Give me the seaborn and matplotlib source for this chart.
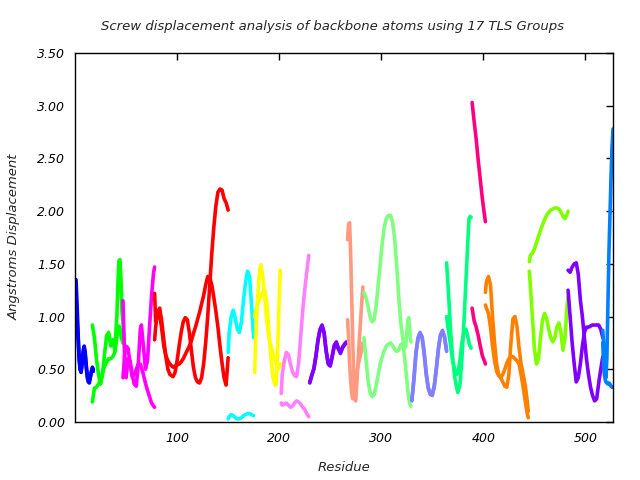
import matplotlib
matplotlib.use("Agg")
import matplotlib.pyplot as plt
import seaborn as sns

# residue numbers and screw displacement (two backbone traces per TLS group)
res_01 = [1, 2, 3, 4, 5, 6, 7, 8, 9, 10, 11, 12, 13, 14, 15, 16, 17, 18]
a_01 = [1.35, 1.12, 0.85, 0.62, 0.5, 0.47, 0.58, 0.68, 0.72, 0.66, 0.52, 0.42, 0.38, 0.37, 0.42, 0.48, 0.52, 0.5]
b_01 = [1.13, 0.98, 0.8, 0.6, 0.5, 0.48, 0.55, 0.64, 0.7, 0.64, 0.54, 0.45, 0.4, 0.39, 0.43, 0.47, 0.5, 0.48]

res_02 = [17, 19, 21, 23, 25, 27, 29, 31, 33, 35, 37, 39, 41, 42, 43, 44, 45, 46, 47, 48]
a_02 = [0.92, 0.8, 0.6, 0.45, 0.36, 0.45, 0.65, 0.82, 0.85, 0.72, 0.78, 0.68, 1.0, 1.3, 1.53, 1.54, 1.35, 1.05, 0.95, 0.75]
b_02 = [0.19, 0.32, 0.33, 0.36, 0.4, 0.47, 0.53, 0.57, 0.6, 0.6, 0.62, 0.66, 0.8, 0.88, 0.91, 0.88, 0.82, 0.78, 0.75, 0.74]

res_03 = [47, 48, 49, 50, 52, 54, 56, 58, 60, 62, 64, 65, 67, 69, 71, 73, 75, 77, 78]
a_03 = [1.15, 0.8, 0.5, 0.42, 0.6, 0.58, 0.45, 0.36, 0.34, 0.55, 0.88, 0.92, 0.72, 0.5, 0.58, 0.9, 1.2, 1.42, 1.47]
b_03 = [0.42, 0.55, 0.68, 0.72, 0.7, 0.55, 0.43, 0.45, 0.5, 0.55, 0.55, 0.52, 0.45, 0.37, 0.3, 0.24, 0.18, 0.15, 0.14]

res_04 = [78, 79, 81, 83, 85, 87, 89, 91, 93, 96, 98, 100, 102, 104, 106, 108, 110, 112, 114,
          116, 118, 120, 122, 124, 126, 128, 130, 132, 134, 136, 138, 140, 142, 144, 146, 148, 150]
a_04 = [1.22, 0.95, 1.05, 1.08, 0.95, 0.78, 0.62, 0.5, 0.45, 0.43, 0.47, 0.58, 0.72, 0.85, 0.95, 0.99, 0.97, 0.85, 0.68,
        0.52, 0.42, 0.38, 0.37, 0.42, 0.55, 0.75, 1.0, 1.3, 1.6, 1.85, 2.05, 2.18, 2.21, 2.2, 2.12, 2.08, 2.01]
b_04 = [0.78, 0.9, 1.05, 1.02, 0.88, 0.72, 0.63, 0.58, 0.55, 0.52, 0.53, 0.54, 0.55, 0.57, 0.6, 0.64, 0.68, 0.72, 0.77,
        0.84, 0.9, 0.97, 1.04, 1.12, 1.2, 1.3, 1.38, 1.37, 1.3, 1.18, 1.05, 0.9, 0.72, 0.56, 0.42, 0.35, 0.61]

res_05 = [150, 151, 153, 155, 157, 159, 161, 163, 165, 167, 169, 171, 173, 175]
a_05 = [0.66, 0.85, 1.0, 1.06, 0.98, 0.88, 0.85, 0.95, 1.15, 1.32, 1.43, 1.38, 1.1, 0.8]
b_05 = [0.03, 0.05, 0.07, 0.06, 0.04, 0.03, 0.03, 0.04, 0.06, 0.07, 0.08, 0.08, 0.07, 0.06]

res_06 = [176, 177, 179, 181, 182, 184, 186, 188, 190, 192, 194, 196, 197, 198, 199, 200, 201]
a_06 = [0.47, 0.8, 1.2, 1.45, 1.49, 1.38, 1.15, 0.95, 0.8, 0.72, 0.65, 0.58, 0.55, 0.52, 0.5, 0.52, 0.55]
b_06 = [1.0, 1.05, 1.12, 1.17, 1.2, 1.23, 1.25, 1.12, 0.85, 0.6, 0.42, 0.35, 0.36, 0.55, 0.85, 1.15, 1.44]

res_07 = [202, 203, 205, 207, 209, 211, 213, 215, 217, 219, 221, 223, 225, 227, 229]
a_07 = [0.27, 0.45, 0.58, 0.66, 0.64, 0.55, 0.48, 0.44, 0.43, 0.55, 0.8, 1.05, 1.25, 1.42, 1.58]
b_07 = [0.18, 0.16, 0.17, 0.18, 0.16, 0.14, 0.15, 0.18, 0.2, 0.19, 0.17, 0.14, 0.12, 0.08, 0.05]

res_08 = [230, 232, 234, 236, 238, 240, 242, 244, 246, 248, 250, 252, 254, 256, 258, 260, 262, 264, 266]
a_08 = [0.38, 0.45, 0.5, 0.62, 0.78, 0.88, 0.92, 0.85, 0.68, 0.55, 0.53, 0.62, 0.72, 0.76, 0.7, 0.65, 0.7, 0.74, 0.76]
b_08 = [0.37, 0.44, 0.51, 0.63, 0.77, 0.87, 0.91, 0.84, 0.67, 0.56, 0.54, 0.63, 0.73, 0.75, 0.69, 0.66, 0.71, 0.73, 0.75]

res_09 = [267, 268, 269, 270, 271, 272, 273, 274, 275, 276, 278, 280, 281, 282]
a_09 = [1.73, 1.88, 1.89, 1.6, 1.2, 0.8, 0.45, 0.22, 0.2, 0.35, 0.7, 1.0, 1.15, 1.28]
b_09 = [0.97, 0.8, 0.55, 0.4, 0.27, 0.22, 0.25, 0.32, 0.4, 0.47, 0.57, 0.65, 0.7, 0.75]

res_10 = [283, 285, 287, 289, 291, 293, 295, 297, 299, 301, 303, 305, 307, 309,
          311, 313, 315, 317, 319, 321, 323, 324, 325, 326, 327, 328, 329]
a_10 = [1.23, 1.18, 1.1, 1.0, 0.95, 0.97, 1.1, 1.3, 1.5, 1.7, 1.85, 1.93, 1.96, 1.96,
        1.9, 1.75, 1.5, 1.2, 0.95, 0.8, 0.7, 0.72, 0.85, 0.97, 0.99, 0.85, 0.76]
b_10 = [0.8, 0.6, 0.4, 0.28, 0.24, 0.26, 0.35, 0.45, 0.55, 0.62, 0.68, 0.72, 0.74, 0.75,
        0.73, 0.69, 0.67, 0.68, 0.73, 0.75, 0.6, 0.5, 0.4, 0.3, 0.22, 0.17, 0.15]

res_11 = [330, 332, 334, 336, 338, 340, 342, 344, 346, 348, 350, 352, 354, 356, 358, 360, 362, 364]
a_11 = [0.21, 0.4, 0.65, 0.8, 0.85, 0.8, 0.65, 0.45, 0.32, 0.26, 0.26, 0.35, 0.52, 0.7, 0.82, 0.87, 0.8, 0.67]
b_11 = [0.2, 0.42, 0.66, 0.79, 0.84, 0.81, 0.67, 0.47, 0.33, 0.27, 0.25, 0.34, 0.5, 0.69, 0.83, 0.86, 0.81, 0.68]

res_12 = [364, 366, 368, 370, 372, 374, 375, 377, 379, 381, 383, 385, 386, 387, 388]
a_12 = [1.51, 1.2, 0.85, 0.6, 0.42, 0.32, 0.28, 0.35, 0.6, 0.95, 1.35, 1.75, 1.93, 1.95, 1.94]
b_12 = [1.0, 0.85, 0.72, 0.58, 0.5, 0.45, 0.46, 0.58, 0.75, 0.85, 0.88, 0.8, 0.75, 0.72, 0.7]

res_13 = [389, 391, 393, 395, 397, 399, 401, 402]
a_13 = [3.03, 2.85, 2.68, 2.48, 2.3, 2.12, 1.97, 1.9]
b_13 = [1.08, 0.96, 0.9, 0.82, 0.72, 0.63, 0.58, 0.55]

res_14 = [402, 403, 405, 407, 409, 411, 413, 415, 417, 419, 421, 423, 425, 427, 429, 431, 433, 435, 437, 439, 441, 443, 444]
a_14 = [1.23, 1.33, 1.38, 1.3, 1.0, 0.75, 0.55, 0.45, 0.42, 0.38, 0.34, 0.33, 0.45, 0.75, 0.98, 1.0, 0.9, 0.7, 0.55, 0.45, 0.35, 0.2, 0.1]
b_14 = [1.11, 1.08, 1.03, 0.9, 0.72, 0.58, 0.48, 0.44, 0.42, 0.45, 0.5, 0.56, 0.6, 0.62, 0.62, 0.6, 0.58, 0.55, 0.45, 0.33, 0.2, 0.08, 0.04]

res_15 = [445, 446, 448, 450, 452, 454, 456, 458, 460, 462, 464, 466, 468, 470, 472, 474, 476, 478, 480, 482, 483]
a_15 = [1.52, 1.58, 1.6, 1.64, 1.7, 1.76, 1.82, 1.87, 1.92, 1.96, 1.99, 2.01, 2.02, 2.03, 2.03, 2.02, 1.99, 1.95, 1.93, 1.97, 2.0]
b_15 = [1.43, 1.3, 1.0, 0.7, 0.55, 0.6, 0.8, 0.97, 1.03, 0.98, 0.88, 0.8, 0.76, 0.8, 0.9, 0.94, 0.85, 0.68, 0.8, 1.1, 1.19]

res_16 = [483, 485, 487, 489, 491, 493, 495, 497, 499, 501, 503, 505, 507, 509, 511, 513, 515, 517]
a_16 = [1.44, 1.42, 1.47, 1.5, 1.51, 1.4, 1.16, 1.0, 0.8, 0.6, 0.45, 0.33, 0.25, 0.2, 0.22, 0.37, 0.5, 0.62]
b_16 = [1.25, 1.0, 0.75, 0.55, 0.38, 0.42, 0.55, 0.72, 0.85, 0.9, 0.9, 0.91, 0.92, 0.92, 0.92, 0.92, 0.88, 0.8]

res_17 = [517, 518, 519, 520, 521, 522, 523, 524, 525, 526, 527]
a_17 = [0.87, 0.7, 0.5, 0.42, 0.6, 1.1, 1.6, 1.95, 2.3, 2.6, 2.78]
b_17 = [0.75, 0.5, 0.42, 0.38, 0.37, 0.36, 0.37, 0.36, 0.34, 0.33, 0.33]

group_colors = ["#0000ff", "#00ff00", "#ff00ff", "#ff0000", "#00ffff", "#ffff00",
                "#ff80ff", "#8000ff", "#ff9980", "#80ff80", "#8080ff", "#00ff80",
                "#ff0080", "#ff8000", "#80ff00", "#8000ff", "#0080ff"]

x_ticks = [100, 200, 300, 400, 500]
y_ticks = [0.0, 0.5, 1.0, 1.5, 2.0, 2.5, 3.0, 3.5]

groups = [(res_01, a_01, b_01), (res_02, a_02, b_02), (res_03, a_03, b_03), (res_04, a_04, b_04),
          (res_05, a_05, b_05), (res_06, a_06, b_06), (res_07, a_07, b_07), (res_08, a_08, b_08),
          (res_09, a_09, b_09), (res_10, a_10, b_10), (res_11, a_11, b_11), (res_12, a_12, b_12),
          (res_13, a_13, b_13), (res_14, a_14, b_14), (res_15, a_15, b_15), (res_16, a_16, b_16),
          (res_17, a_17, b_17)]

sns.set_style("white")
plt.rcParams["font.family"] = ["DejaVu Sans"]
plt.rcParams["font.style"] = "italic"

fig = plt.figure(figsize=(6.4, 4.8), dpi=100)
ax = fig.add_axes([75 / 640, 58 / 480, 538 / 640, 369 / 480])

for (res, a, b), color in zip(groups, group_colors):
    for vals in (a, b):
        sns.lineplot(x=res, y=vals, color=color, lw=2.6, ax=ax,
                     estimator=None, sort=False, legend=False)

ax.set_xlim(0, 527)
ax.set_ylim(0, 3.5)
ax.set_xticks(x_ticks)
ax.set_xticklabels([str(t) for t in x_ticks])
ax.set_yticks(y_ticks)
ax.set_yticklabels(["%.2f" % t for t in y_ticks])
ax.tick_params(direction="in", top=True, right=True, length=5, width=1,
               labelsize=9, pad=7, colors="black")
for s in ax.spines.values():
    s.set_color("black")
    s.set_linewidth(1)
ax.set_xlabel("")
ax.set_ylabel("")

fig.text(0.519, 0.944, "Screw displacement analysis of backbone atoms using 17 TLS Groups",
         ha="center", va="center", fontsize=9.5)
fig.text(0.5375, 0.027, "Residue", ha="center", va="center", fontsize=9.5)
fig.text(0.022, 0.506, "Angstroms Displacement", ha="center", va="center",
         rotation=90, fontsize=9.5)

fig.savefig("out.png", dpi=100)
